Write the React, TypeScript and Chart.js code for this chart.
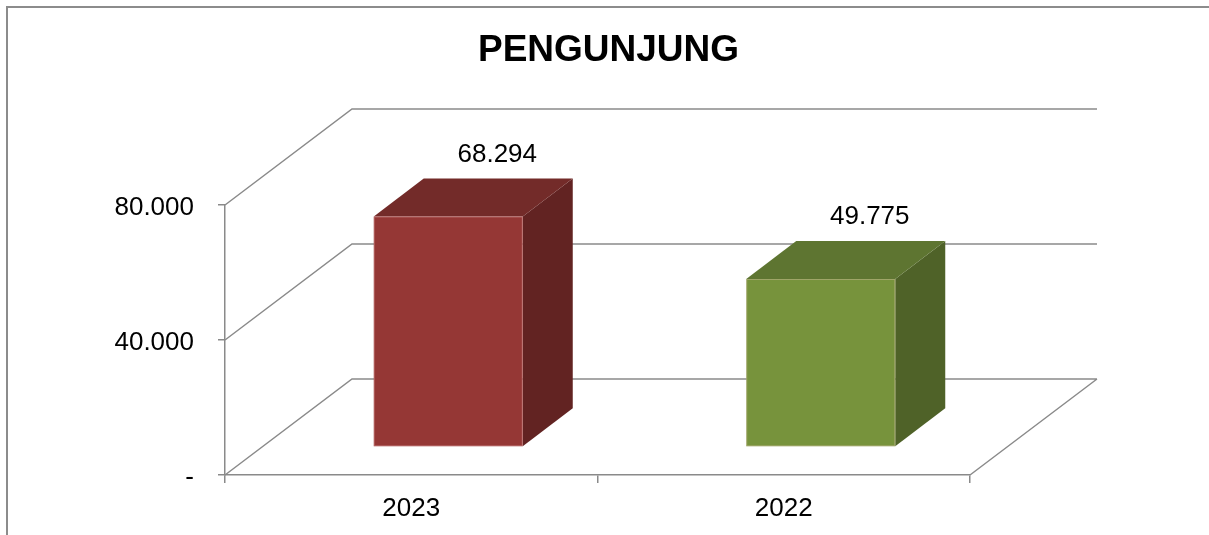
import React, { useEffect, useRef } from 'react';
import { Chart, registerables } from 'chart.js';

Chart.register(...registerables);

const TITLE = 'PENGUNJUNG';
const categories = ['2023', '2022'];
const visitors = [68294, 49775];
const yTickValues = [0, 40000, 80000];
const frontColors = ['#953735', '#77933C'];
const topColors = ['#732B29', '#5E7531'];
const sideColors = ['#622322', '#4F6228'];

const FONT = '"Liberation Sans", Arial, sans-serif';
const GRID = '#8a8a8a';

// 3D geometry (pixels)
const DX = 127; // wall depth x
const DY = 96; // wall depth y
const FX = 37; // bar front offset into depth
const FY = 28;
const BX = 50; // bar depth
const BY = 38;

const fmt = (n: number) => (n === 0 ? '-' : String(n).replace(/\B(?=(\d{3})+(?!\d))/g, '.'));

const poly = (ctx: CanvasRenderingContext2D, pts: number[][], fill: string) => {
  ctx.beginPath();
  ctx.moveTo(pts[0][0], pts[0][1]);
  for (let i = 1; i < pts.length; i++) ctx.lineTo(pts[i][0], pts[i][1]);
  ctx.closePath();
  ctx.fillStyle = fill;
  ctx.fill();
};

const threeD = {
  id: 'threeD',
  beforeDraw(chart: any) {
    const ctx = chart.ctx as CanvasRenderingContext2D;
    ctx.save();
    ctx.strokeStyle = '#8c8c8c';
    ctx.lineWidth = 2;
    ctx.beginPath();
    ctx.moveTo(7, chart.height);
    ctx.lineTo(7, 7);
    ctx.lineTo(chart.width, 7);
    ctx.stroke();
    ctx.fillStyle = '#000';
    ctx.font = `bold 37px ${FONT}`;
    ctx.textAlign = 'center';
    ctx.textBaseline = 'middle';
    ctx.fillText(TITLE, chart.width / 2 + 4, 51);
    ctx.restore();
  },
  beforeDatasetsDraw(chart: any) {
    const ctx = chart.ctx as CanvasRenderingContext2D;
    const { left, right, bottom } = chart.chartArea;
    const y = chart.scales.y;
    ctx.save();
    ctx.strokeStyle = GRID;
    ctx.lineWidth = 1.5;
    ctx.beginPath();
    yTickValues.forEach((v) => {
      const py = y.getPixelForValue(v);
      ctx.moveTo(left, py);
      ctx.lineTo(left + DX, py - DY);
      ctx.lineTo(right + DX, py - DY);
    });
    ctx.moveTo(right, bottom);
    ctx.lineTo(right + DX, bottom - DY);
    ctx.stroke();
    ctx.restore();
  },
  afterDatasetsDraw(chart: any) {
    const ctx = chart.ctx as CanvasRenderingContext2D;
    const meta = chart.getDatasetMeta(0);
    ctx.save();
    meta.data.forEach((el: any, i: number) => {
      const p = el.getProps(['x', 'y', 'base', 'width'], true);
      const x0 = p.x - p.width / 2 + FX;
      const x1 = p.x + p.width / 2 + FX;
      const yt = p.y - FY;
      const yb = p.base - FY;
      poly(ctx, [[x1, yt], [x1 + BX, yt - BY], [x1 + BX, yb - BY], [x1, yb]], sideColors[i]);
      poly(ctx, [[x0, yt], [x0 + BX, yt - BY], [x1 + BX, yt - BY], [x1, yt]], topColors[i]);
      ctx.fillStyle = frontColors[i];
      ctx.fillRect(x0, yt, x1 - x0, yb - yt);
      ctx.strokeStyle = 'rgba(255,210,210,0.3)';
      ctx.lineWidth = 1;
      ctx.strokeRect(x0 + 0.5, yt + 0.5, x1 - x0 - 1, yb - yt - 1);
      ctx.fillStyle = '#000';
      ctx.font = `26px ${FONT}`;
      ctx.textAlign = 'center';
      ctx.textBaseline = 'middle';
      ctx.fillText(fmt(visitors[i]), p.x + FX + 49, p.y - FY - 62);
    });
    ctx.restore();
  },
};

export default function App() {
  const ref = useRef<HTMLCanvasElement>(null);
  useEffect(() => {
    const chart = new Chart(ref.current as HTMLCanvasElement, {
      type: 'bar',
      data: {
        labels: categories,
        datasets: [
          {
            label: TITLE,
            data: visitors,
            backgroundColor: 'rgba(0,0,0,0)',
            borderWidth: 0,
            barPercentage: 0.4,
            categoryPercentage: 1,
          },
        ],
      },
      options: {
        responsive: false,
        animation: false,
        devicePixelRatio: 1,
        layout: { padding: { top: 205, left: 0, right: 239, bottom: 0 } },
        plugins: { legend: { display: false }, title: { display: false }, tooltip: { enabled: false } },
        scales: {
          x: {
            offset: true,
            grid: { offset: true, drawOnChartArea: false, drawTicks: true, tickLength: 8, color: GRID, lineWidth: 1.5 },
            border: { display: true, color: GRID, width: 1.5 },
            ticks: { color: '#000', font: { family: FONT, size: 26 }, padding: 10, maxRotation: 0 },
            afterFit: (s: any) => {
              s.height = 60;
            },
          },
          y: {
            min: 0,
            max: 80000,
            afterBuildTicks: (s: any) => {
              s.ticks = yTickValues.map((v) => ({ value: v }));
            },
            grid: { drawOnChartArea: false, drawTicks: true, tickLength: 7, color: GRID, lineWidth: 1.5 },
            border: { display: true, color: GRID, width: 1.5 },
            ticks: {
              color: '#000',
              font: { family: FONT, size: 26 },
              padding: 24,
              labelOffset: 3,
              callback: (v: any) => fmt(Number(v)),
            },
            afterFit: (s: any) => {
              s.width = 225;
            },
          },
        },
      },
      plugins: [threeD],
    });
    return () => chart.destroy();
  }, []);
  return (
    <div style={{ position: 'absolute', left: 0, top: 0, width: 1209, height: 535, background: '#fff' }}>
      <canvas ref={ref} width={1209} height={535} />
    </div>
  );
}
